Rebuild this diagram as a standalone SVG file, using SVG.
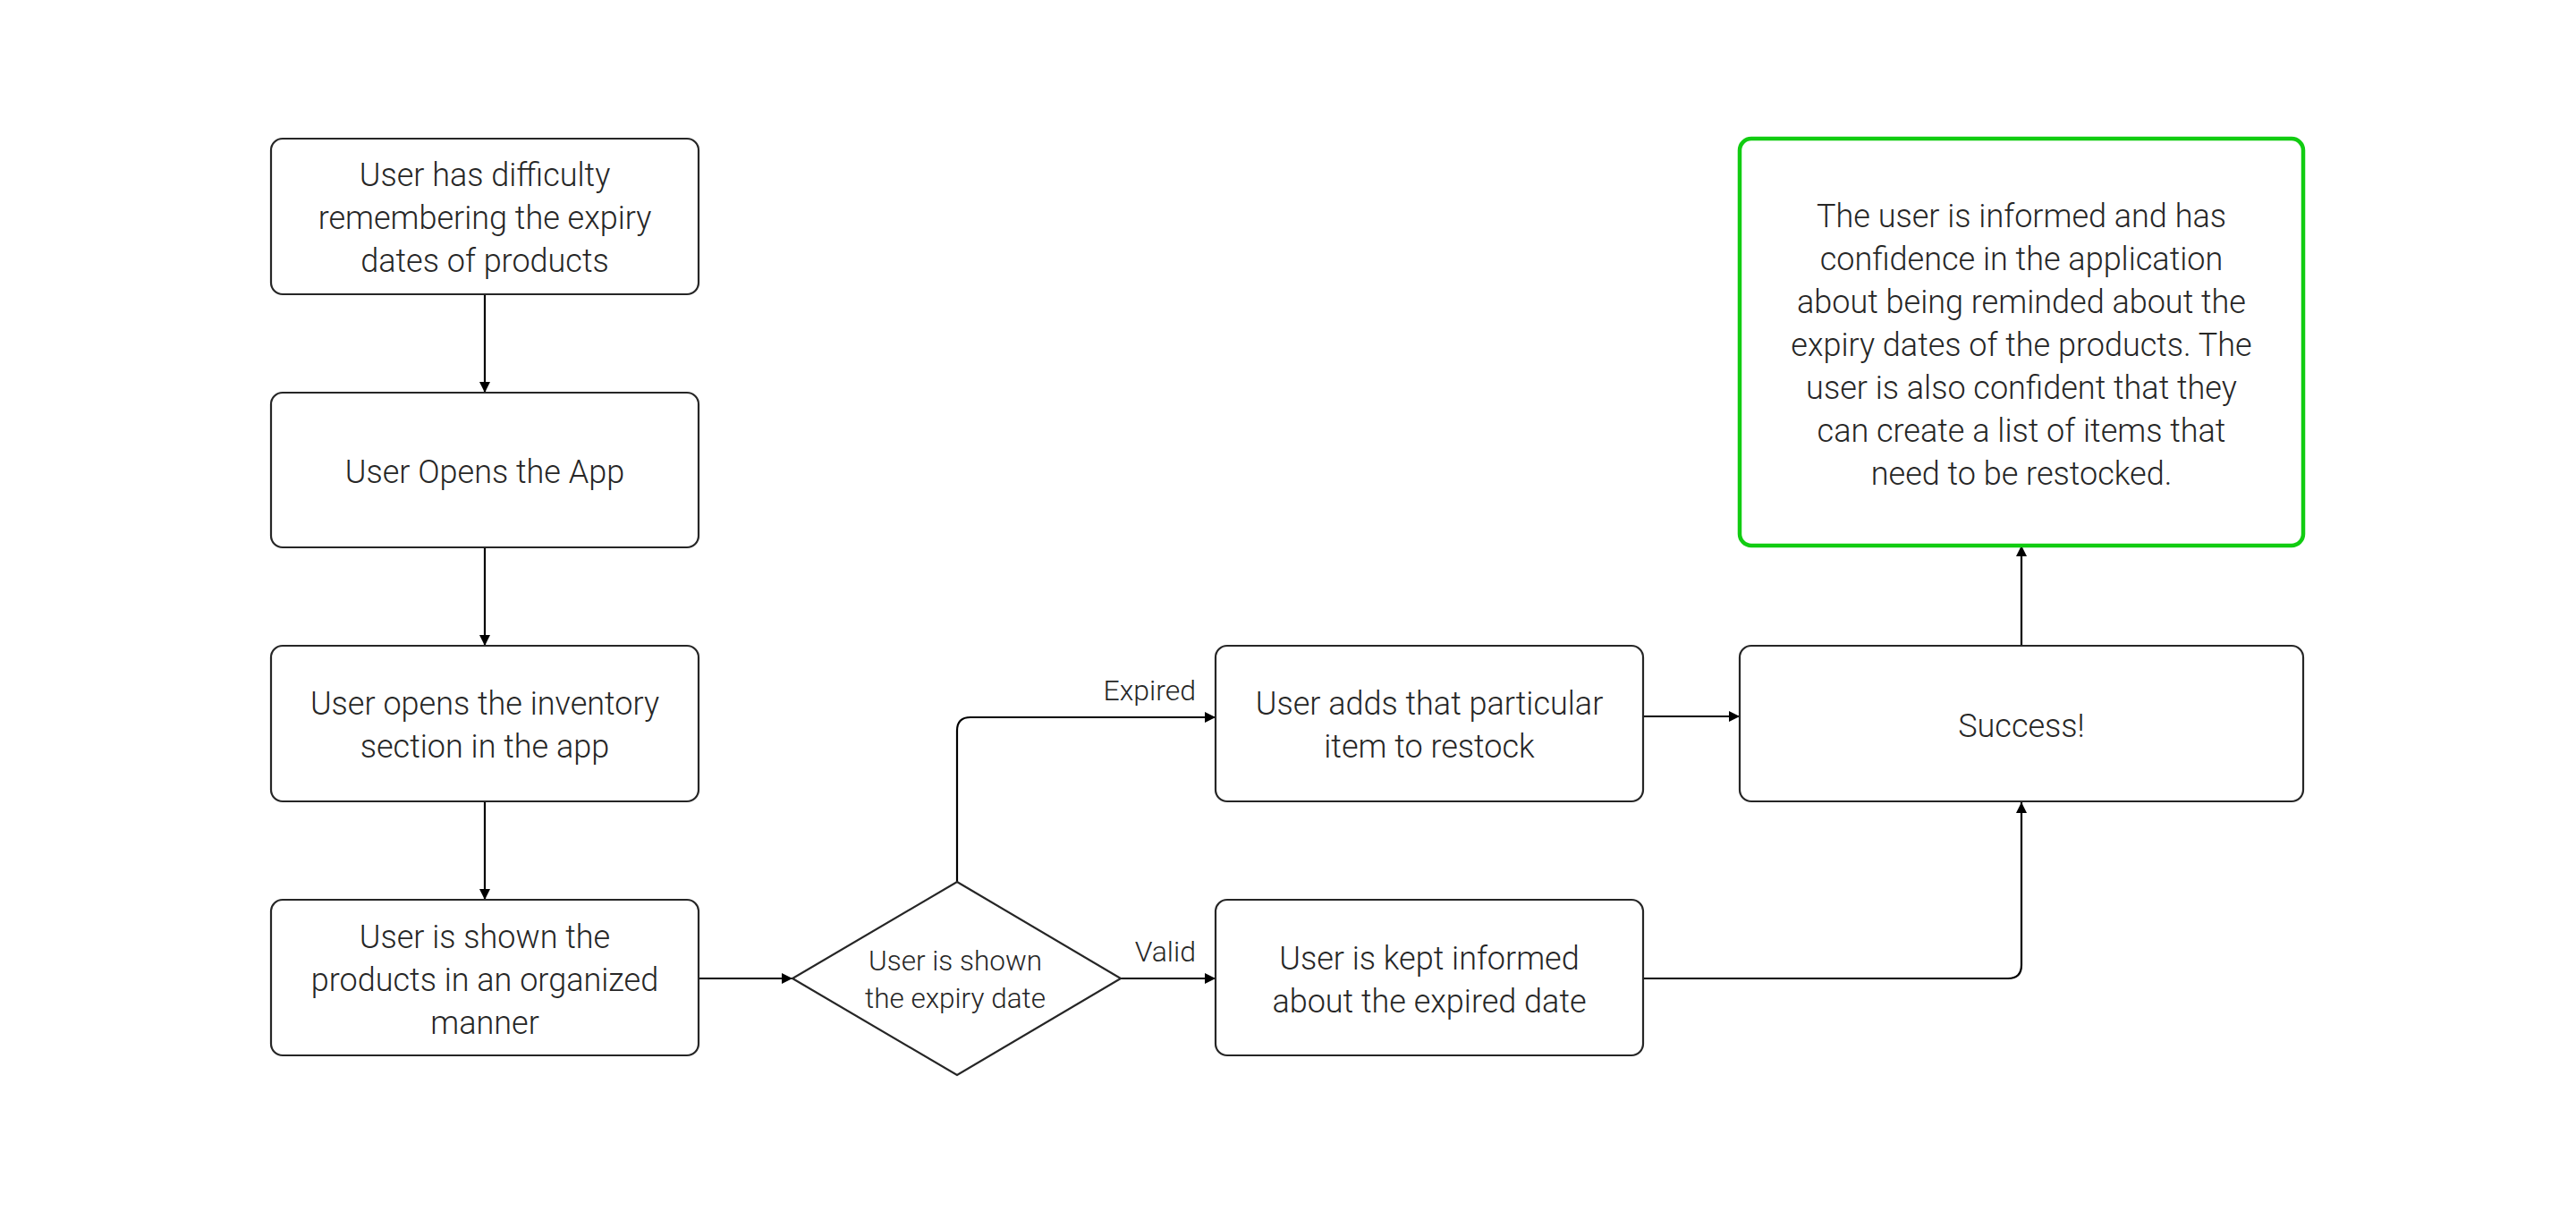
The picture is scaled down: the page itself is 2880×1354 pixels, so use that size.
<svg xmlns="http://www.w3.org/2000/svg" width="2880" height="1354" viewBox="0 0 2880 1354">
<style>
.box{fill:#ffffff;stroke:#262626;stroke-width:2.2}
.green{fill:#ffffff;stroke:#11cc11;stroke-width:4.5}
.t{font-family:Roboto,"Liberation Sans",sans-serif;font-weight:300;font-size:36px;fill:#262626;text-anchor:middle;dominant-baseline:central}
.s{font-size:31.5px}
.lbl{font-family:Roboto,"Liberation Sans",sans-serif;font-weight:300;font-size:32px;fill:#262626;text-anchor:end;dominant-baseline:central}
.c{fill:none;stroke:#000000;stroke-width:2.2}
</style>
<defs>
<marker id="arr" markerUnits="userSpaceOnUse" markerWidth="14" markerHeight="14" refX="12" refY="6" orient="auto">
<path d="M0,0 L12,6 L0,12 z" fill="#000000"/>
</marker>
</defs>
<rect width="2880" height="1354" fill="#ffffff"/>
<g id="connectors">
<path class="c" d="M542,329 V439" marker-end="url(#arr)"/>
<path class="c" d="M542,612 V722" marker-end="url(#arr)"/>
<path class="c" d="M542,896 V1006" marker-end="url(#arr)"/>
<path class="c" d="M781,1094 H886" marker-end="url(#arr)"/>
<path class="c" d="M1070,986 V817 Q1070,802 1085,802 H1359" marker-end="url(#arr)"/>
<path class="c" d="M1253,1094 H1359" marker-end="url(#arr)"/>
<path class="c" d="M1837,801 H1945" marker-end="url(#arr)"/>
<path class="c" d="M1837,1094 H2245 Q2260,1094 2260,1079 V897" marker-end="url(#arr)"/>
<path class="c" d="M2260,722 V610" marker-end="url(#arr)"/>
<text class="lbl" x="1337" y="772">Expired</text>
<text class="lbl" x="1337" y="1064">Valid</text>
</g>
<g id="n1">
<rect class="box" x="303" y="155" width="478" height="174" rx="13"/>
<text class="t" x="542" y="196">User has difficulty</text>
<text class="t" x="542" y="244">remembering the expiry</text>
<text class="t" x="542" y="292">dates of products</text>
</g>
<g id="n2">
<rect class="box" x="303" y="439" width="478" height="173" rx="13"/>
<text class="t" x="542" y="528">User Opens the App</text>
</g>
<g id="n3">
<rect class="box" x="303" y="722" width="478" height="174" rx="13"/>
<text class="t" x="542" y="787">User opens the inventory</text>
<text class="t" x="542" y="835">section in the app</text>
</g>
<g id="n4">
<rect class="box" x="303" y="1006" width="478" height="174" rx="13"/>
<text class="t" x="542" y="1048">User is shown the</text>
<text class="t" x="542" y="1096">products in an organized</text>
<text class="t" x="542" y="1144">manner</text>
</g>
<g id="n5">
<polygon class="box" points="1070,986 1253,1094 1070,1202 886,1094"/>
<text class="t s" x="1068" y="1074">User is shown</text>
<text class="t s" x="1068" y="1116">the expiry date</text>
</g>
<g id="n6">
<rect class="box" x="1359" y="722" width="478" height="174" rx="13"/>
<text class="t" x="1598" y="787">User adds that particular</text>
<text class="t" x="1598" y="835">item to restock</text>
</g>
<g id="n7">
<rect class="box" x="1359" y="1006" width="478" height="174" rx="13"/>
<text class="t" x="1598" y="1072">User is kept informed</text>
<text class="t" x="1598" y="1120">about the expired date</text>
</g>
<g id="n8">
<rect class="box" x="1945" y="722" width="630" height="174" rx="13"/>
<text class="t" x="2260" y="812">Success!</text>
</g>
<g id="n9">
<rect class="green" x="1945" y="155" width="630" height="455" rx="13"/>
<text class="t" x="2260" y="242">The user is informed and has</text>
<text class="t" x="2260" y="290">confidence in the application</text>
<text class="t" x="2260" y="338">about being reminded about the</text>
<text class="t" x="2260" y="386">expiry dates of the products. The</text>
<text class="t" x="2260" y="434">user is also confident that they</text>
<text class="t" x="2260" y="482">can create a list of items that</text>
<text class="t" x="2260" y="530">need to be restocked.</text>
</g>
</svg>
